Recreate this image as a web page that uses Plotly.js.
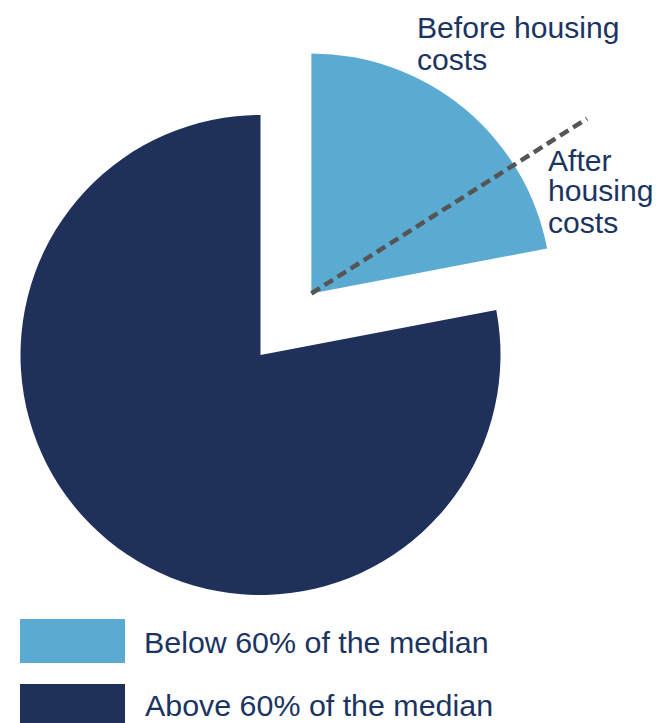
<!DOCTYPE html>
<html>
<head>
<meta charset="utf-8">
<script src="https://cdn.plot.ly/plotly-3.0.1.min.js"></script>
<style>
  html, body { margin:0; padding:0; overflow:hidden; background:#ffffff; width:657px; height:723px; }
  #chart { position:absolute; left:-60px; top:0; width:717px; height:723px; }
</style>
</head>
<body>
<div id="chart"></div>
<script>
// ---- data ----
const categories = ["Below 60% of the median", "Above 60% of the median"];
const sharesAHC = [22, 78];          // after housing costs, % of people
const belowBHC = 16;                 // before housing costs, % below 60% of median
const bhcLabelLines = ["Before housing", "costs"];
const ahcLabelLines = ["After", "housing", "costs"];

// ---- style / layout constants ----
const colors = ["#5aaad1", "#1f315a"];
const textColor = "#1c3461";
const FONT = "Liberation Sans, Arial, sans-serif";
const SHIFT = 60, W = 717, H = 723;
const R = 240, PULL = 0.3325;
const CX = 260.5, CY = 355;           // pie centre on the page
const BOX = 2 * R * (1 + PULL);

const px2x = p => (p + SHIFT) / W;    // page px -> paper x
const py2y = p => 1 - p / H;          // page px -> paper y

const trace = {
  type: "pie",
  labels: categories,
  values: sharesAHC,
  marker: { colors: colors, line: { width: 0 } },
  pull: [PULL, 0],
  sort: false,
  direction: "clockwise",
  rotation: 0,
  textinfo: "none",
  hoverinfo: "label+percent",
  showlegend: false,
  domain: {
    x: [px2x(CX - BOX / 2), px2x(CX + BOX / 2)],
    y: [py2y(CY + BOX / 2), py2y(CY - BOX / 2)]
  }
};

// dashed divider: from the pulled slice's vertex at the BHC angle
const total = sharesAHC.reduce((a, b) => a + b, 0);
const midA = (sharesAHC[0] / total) * Math.PI;          // mid angle of pulled slice
const vx = CX + PULL * R * Math.sin(midA);
const vy = CY - PULL * R * Math.cos(midA);
const bA = (belowBHC / 100) * 2 * Math.PI;
const L = 1.36 * R;
const ex = vx + L * Math.sin(bA);
const ey = vy - L * Math.cos(bA);

const shapes = [
  { type: "line", xref: "paper", yref: "paper",
    x0: px2x(vx), y0: py2y(vy), x1: px2x(ex), y1: py2y(ey),
    line: { color: "#555555", width: 4.5, dash: "10px,5.5px" } },
  // legend swatches
  { type: "rect", xref: "paper", yref: "paper", line: { width: 0 },
    x0: px2x(20), x1: px2x(125), y0: py2y(663), y1: py2y(619), fillcolor: colors[0] },
  { type: "rect", xref: "paper", yref: "paper", line: { width: 0 },
    x0: px2x(20), x1: px2x(125), y0: py2y(728), y1: py2y(684), fillcolor: colors[1] }
];

function ann(text, x, cy, size) {
  return { text: text, xref: "paper", yref: "paper", x: px2x(x), y: py2y(cy),
    xanchor: "left", yanchor: "middle", showarrow: false,
    font: { family: FONT, size: size, color: textColor } };
}

const annotations = [];
const bhcY = [28, 59];
bhcLabelLines.forEach((t, i) => annotations.push(ann(t, 415, bhcY[i], 30.1)));
const ahcY = [160, 191, 222];
ahcLabelLines.forEach((t, i) => annotations.push(ann(t, 546, ahcY[i], 30.1)));
annotations.push(ann(categories[0], 142, 641.5, 30.4));
annotations.push(ann(categories[1], 143, 704.5, 30.4));

const layout = {
  width: W, height: H,
  margin: { l: 0, r: 0, t: 0, b: 0, pad: 0 },
  paper_bgcolor: "#ffffff",
  plot_bgcolor: "#ffffff",
  showlegend: false,
  shapes: shapes,
  annotations: annotations
};

Plotly.newPlot("chart", [trace], layout, { displayModeBar: false, staticPlot: true });
</script>
</body>
</html>
